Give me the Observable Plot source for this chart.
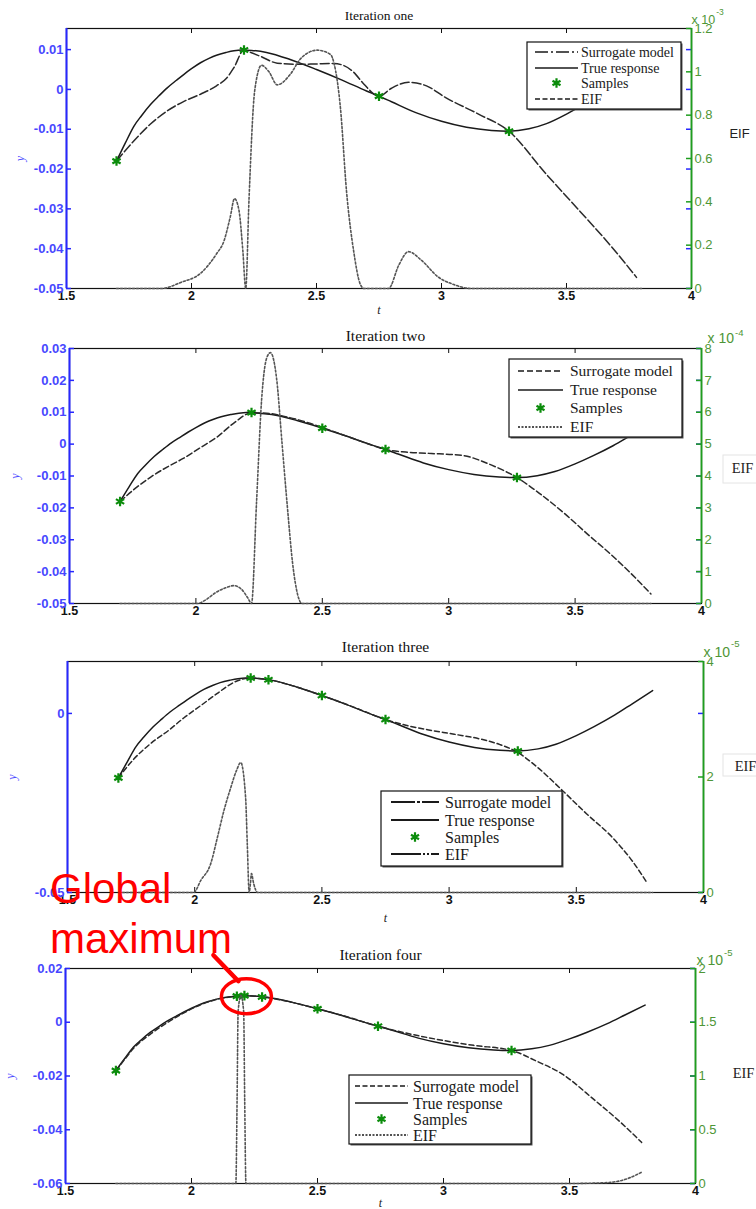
<!DOCTYPE html>
<html><head><meta charset="utf-8">
<script src="https://cdn.jsdelivr.net/npm/d3@7"></script>
<script src="https://cdn.jsdelivr.net/npm/@observablehq/plot@0.6"></script>
<style>
body{margin:0;background:#fff;}
#root{position:relative;width:756px;height:1209px;overflow:hidden;background:#fff;}
.layer{position:absolute;left:0;top:0;}
</style></head><body><div id="root"></div>
<script>
// ---------------- DATA ----------------
const xTicks = [1.5, 2, 2.5, 3, 3.5, 4];
const xInner = [2, 2.5, 3, 3.5];
const titles = ["Iteration one", "Iteration two", "Iteration three", "Iteration four"];
const legendLabels = ["Surrogate model", "True response", "Samples", "EIF"];
const yDomains = [[-0.05, 0.0153], [-0.05, 0.03], [-0.05, 0.0145], [-0.06, 0.02]];
const leftTicks = [
  [0.01, 0, -0.01, -0.02, -0.03, -0.04, -0.05],
  [0.03, 0.02, 0.01, 0, -0.01, -0.02, -0.03, -0.04, -0.05],
  [0, -0.05],
  [0.02, 0, -0.02, -0.04, -0.06]
];
const eifDomains = [[0, 1.2], [0, 8], [0, 4], [0, 2]];
const rightTicks = [[0, 0.2, 0.4, 0.6, 0.8, 1, 1.2], [0, 1, 2, 3, 4, 5, 6, 7, 8], [0, 2, 4], [0, 0.5, 1, 1.5, 2]];
const eifExponents = ["-3", "-4", "-5", "-5"];

// True response (same in every iteration)
const trueT = [1.7, 1.735, 1.77, 1.8, 1.836, 1.87, 1.903, 1.94, 1.97, 2.0, 2.036, 2.07, 2.1, 2.14, 2.17, 2.2, 2.24, 2.3, 2.4, 2.5, 2.6, 2.7, 2.75, 2.8, 2.9, 3.0, 3.1, 3.2, 3.27, 3.35, 3.42, 3.5, 3.57, 3.65, 3.72, 3.8];
const trueY = [-0.018, -0.0135, -0.0092, -0.0066, -0.0038, -0.0016, 0.0004, 0.0023, 0.0038, 0.0052, 0.0067, 0.0078, 0.0086, 0.0093, 0.0097, 0.0099, 0.0098, 0.0093, 0.0074, 0.005, 0.0024, -0.0004, -0.0017, -0.0031, -0.0059, -0.008, -0.0095, -0.0103, -0.0105, -0.0099, -0.0086, -0.0062, -0.0037, -0.0005, 0.0027, 0.0064];

// Surrogate models
const sur1T = [1.7, 1.77, 1.836, 1.903, 1.97, 2.036, 2.1, 2.14, 2.17, 2.21, 2.24, 2.276, 2.343, 2.436, 2.5, 2.569, 2.609, 2.649, 2.69, 2.75, 2.8, 2.868, 2.94, 3.015, 3.148, 3.27, 3.415, 3.548, 3.68, 3.78];
const sur1Y = [-0.018, -0.0129, -0.0087, -0.0054, -0.003, -0.0012, 0.0009, 0.0028, 0.0055, 0.0099, 0.0092, 0.0083, 0.0066, 0.0063, 0.0064, 0.0065, 0.006, 0.0043, 0.0013, -0.0017, 0.0003, 0.0018, 0.0009, -0.002, -0.0062, -0.0105, -0.021, -0.0302, -0.0395, -0.0472];
const sur2T = [1.7, 1.76, 1.82, 1.886, 1.95, 2.02, 2.085, 2.15, 2.22, 2.28, 2.35, 2.42, 2.5, 2.6, 2.68, 2.75, 2.83, 2.92, 3.05, 3.17, 3.27, 3.36, 3.46, 3.55, 3.64, 3.72, 3.8];
const sur2Y = [-0.018, -0.0139, -0.0104, -0.0072, -0.0045, -0.001, 0.0023, 0.0066, 0.0098, 0.0097, 0.0087, 0.0073, 0.0052, 0.0024, 0.0001, -0.0017, -0.0025, -0.0029, -0.0035, -0.0066, -0.0105, -0.0155, -0.0219, -0.0283, -0.0345, -0.0405, -0.047];
const sur3T = [1.7, 1.76, 1.827, 1.9, 1.958, 2.024, 2.089, 2.155, 2.22, 2.29, 2.4, 2.5, 2.62, 2.75, 2.83, 2.92, 3.02, 3.12, 3.2, 3.26, 3.35, 3.445, 3.54, 3.64, 3.72, 3.78];
const sur3Y = [-0.018, -0.0128, -0.0084, -0.0046, -0.0012, 0.0022, 0.0056, 0.0087, 0.0099, 0.0094, 0.0074, 0.005, 0.0019, -0.0017, -0.0033, -0.0046, -0.0058, -0.0071, -0.0087, -0.0105, -0.0152, -0.0215, -0.028, -0.0345, -0.0412, -0.0475];
const sur4T = [1.7, 1.735, 1.77, 1.836, 1.903, 1.97, 2.036, 2.1, 2.18, 2.21, 2.28, 2.4, 2.5, 2.6, 2.74, 2.85, 3.0, 3.12, 3.27, 3.37, 3.47, 3.6, 3.7, 3.786];
const sur4Y = [-0.018, -0.0138, -0.0097, -0.0045, -0.0002, 0.0035, 0.0065, 0.0085, 0.0097, 0.0099, 0.0094, 0.0074, 0.005, 0.0025, -0.0015, -0.004, -0.0068, -0.0086, -0.0105, -0.0145, -0.0192, -0.029, -0.037, -0.0447];

// Samples
const samp1T = [1.7, 2.21, 2.75, 3.27];
const samp1Y = [-0.018, 0.0099, -0.0017, -0.0105];
const samp2T = [1.7, 2.22, 2.5, 2.75, 3.27];
const samp2Y = [-0.018, 0.0099, 0.005, -0.0017, -0.0105];
const samp3T = [1.7, 2.22, 2.29, 2.5, 2.75, 3.27];
const samp3Y = [-0.018, 0.0099, 0.0094, 0.005, -0.0017, -0.0105];
const samp4T = [1.7, 2.18, 2.21, 2.28, 2.5, 2.74, 3.27];
const samp4Y = [-0.018, 0.0097, 0.0099, 0.0094, 0.005, -0.0015, -0.0105];

// EIF (right axis, in units of the exponent shown)
const eif1T = [1.7, 1.88, 1.957, 2.036, 2.1, 2.13, 2.155, 2.172, 2.19, 2.205, 2.217, 2.23, 2.253, 2.28, 2.31, 2.343, 2.396, 2.436, 2.503, 2.556, 2.57, 2.596, 2.62, 2.649, 2.675, 2.69, 2.788, 2.83, 2.868, 2.92, 2.988, 3.05, 3.12, 3.8];
const eif1V = [0, 0, 0.028, 0.07, 0.16, 0.22, 0.33, 0.415, 0.36, 0.18, 0, 0.41, 0.915, 1.03, 1.0, 0.94, 0.99, 1.06, 1.10, 1.08, 1.04, 0.83, 0.45, 0.17, 0.02, 0, 0, 0.11, 0.17, 0.13, 0.052, 0.018, 0, 0];
const eif2T = [1.7, 2.005, 2.04, 2.08, 2.12, 2.15, 2.18, 2.205, 2.22, 2.24, 2.26, 2.28, 2.295, 2.32, 2.34, 2.36, 2.385, 2.42, 3.8];
const eif2V = [0, 0, 0.12, 0.35, 0.5, 0.56, 0.45, 0.18, 0, 3.2, 6.4, 7.7, 7.87, 7.0, 5.1, 3.2, 1.1, 0, 0];
const eif3T = [1.7, 1.996, 2.024, 2.063, 2.089, 2.115, 2.142, 2.165, 2.181, 2.2, 2.207, 2.214, 2.219, 2.223, 2.232, 2.247, 3.8];
const eif3V = [0, 0, 0.21, 0.5, 0.95, 1.42, 1.82, 2.12, 2.25, 1.65, 0.8, 0, 0.15, 0.33, 0.15, 0, 0];
const eif4T = [1.7, 2.176, 2.181, 2.185, 2.196, 2.207, 2.211, 2.216, 3.5, 3.6, 3.668, 3.73, 3.786];
const eif4V = [0, 0, 0.8, 1.6, 1.75, 1.6, 0.8, 0, 0, 0.004, 0.012, 0.045, 0.105];

const annotationLines = ["Global", "maximum"];
const annotationPoint = {t: 2.22, y: 0.0095};

// ---------------- LAYOUT ----------------
const surT = [sur1T, sur2T, sur3T, sur4T], surY = [sur1Y, sur2Y, sur3Y, sur4Y];
const sampT = [samp1T, samp2T, samp3T, samp4T], sampY = [samp1Y, samp2Y, samp3Y, samp4Y];
const eifT = [eif1T, eif2T, eif3T, eif4T], eifV = [eif1V, eif2V, eif3V, eif4V];

const layouts = [
  {top: 0, H: 320, mt: 28, mb: 32, ml: 66, mr: 65, titleDy: -13, titleSize: 13.5, yDx: -46, tDy: 22,
   expDx: 0, expDy: -9, supDy: -16, expSize: 12.5, eifDx: 48, eifDy: -25, eifFont: "Liberation Sans", eifSize: 13, surDash: "9,3",
   legend: {x: 527, y: 42, w: 154, h: 67, rows: [52, 68, 83, 99], lx1: 535, lx2: 578, tx: 581, fs: 14, dashes: ["13,3,2,3", null, null, "5,2.5"], lw: 1.3}},
  {top: 320, H: 300, mt: 28, mb: 17, ml: 69, mr: 55, titleDy: -12, titleSize: 15.5, yDx: -54, tDy: null,
   expDx: 6, expDy: -10, supDy: -16, expSize: 14, eifDx: 41, eifDy: -8, eifFont: "Liberation Serif", eifSize: 14.5, surDash: "6,3",
   legend: {x: 509, y: 359, w: 173, h: 78, rows: [371, 390, 408, 427], lx1: 518, lx2: 563, tx: 570, fs: 15.5, dashes: ["6,3", null, null, "2,1.5"], lw: 1.3}},
  {top: 630, H: 300, mt: 31, mb: 38, ml: 67, mr: 53, titleDy: -14, titleSize: 15.5, yDx: -55, tDy: 26,
   expDx: 0, expDy: -9, supDy: -18, expSize: 14, eifDx: 42, eifDy: -11, eifFont: "Liberation Serif", eifSize: 14.5, surDash: "5,3",
   legend: {x: 381, y: 791, w: 181, h: 75, rows: [802, 820, 837, 854], lx1: 391, lx2: 439, tx: 445, fs: 16, dashes: ["24,2,3,2", null, null, "30,2,2,2,2,2"], lw: 2}},
  {top: 940, H: 269, mt: 28, mb: 26, ml: 65, mr: 61, titleDy: -13, titleSize: 15.5, yDx: -55, tDy: 20,
   expDx: 1, expDy: -8, supDy: -16, expSize: 14, eifDx: 48, eifDy: -3, eifFont: "Liberation Serif", eifSize: 14.5, surDash: "5,3",
   legend: {x: 349, y: 1075, w: 182, h: 69, rows: [1086, 1103, 1119, 1135], lx1: 355, lx2: 408, tx: 413, fs: 16, dashes: ["5,2.5", null, null, "2,1.5"], lw: 1.3}}
];

const blue = "#2727ff", blueText = "#4747ff", green = "#1e9e1e", greenText = "#4e9636", sampleGreen = "#0b8c0b";
const fmtL = d => d === 0 ? "0" : d.toFixed(2);
const fmtR = d => String(+d.toFixed(2));
const root = document.getElementById("root");
const plotsA = [];

layouts.forEach((L, i) => {
  const w = 756 - L.ml - L.mr, h = L.H - L.mt - L.mb;
  const common = {
    width: 756, height: L.H, marginLeft: L.ml, marginRight: L.mr, marginTop: L.mt, marginBottom: L.mb,
    style: {background: "transparent", overflow: "visible", fontFamily: "Liberation Sans"}
  };
  const xDomain = [xTicks[0], xTicks[xTicks.length - 1]];
  const trueData = trueT.map((t, k) => ({t, y: trueY[k]}));
  const surData = surT[i].map((t, k) => ({t, y: surY[i][k]}));
  const sampData = sampT[i].map((t, k) => ({t, y: sampY[i][k]}));
  const eifData = eifT[i].map((t, k) => ({t, v: eifV[i][k]}));

  const A = Plot.plot({...common, x: {domain: xDomain}, y: {domain: yDomains[i]}, marks: [
    Plot.frame({stroke: "#111", strokeWidth: 1.2}),
    Plot.line(trueData, {x: "t", y: "y", stroke: "#1a1a1a", strokeWidth: 1.5, curve: "monotone-x"}),
    Plot.line(surData, {x: "t", y: "y", stroke: "#2a2a2a", strokeWidth: 1.5, strokeDasharray: L.surDash, curve: "monotone-x"}),
    Plot.dot(sampData, {x: "t", y: "y", symbol: "asterisk", r: 4.5, stroke: sampleGreen, strokeWidth: 2.2}),
    Plot.tickX(xInner, {x: d => d, insetTop: h - 5, stroke: "#111"}),
    Plot.tickX(xInner, {x: d => d, insetBottom: h - 5, stroke: "#111"}),
    Plot.axisX({ticks: xTicks, tickSize: 0, tickPadding: 3, tickFormat: d => String(d), fontSize: 12.5, fontWeight: "bold", fill: "#111", label: null}),
    Plot.axisY({ticks: leftTicks[i], tickSize: 0, tickPadding: 3, tickFormat: fmtL, fontSize: 13, fontWeight: "bold", fill: blueText, label: null}),
    Plot.tickY(leftTicks[i], {y: d => d, insetRight: w - 5, stroke: blue, strokeWidth: 1.5}),
    Plot.tickY(leftTicks[i], {y: d => d, insetLeft: w - 5, stroke: blue, strokeWidth: 1.5}),
    Plot.ruleX([xDomain[0]], {stroke: blue, strokeWidth: 2}),
    Plot.text([titles[i]], {frameAnchor: "top", dy: L.titleDy, textAnchor: "middle", lineAnchor: "middle", fontFamily: "Liberation Serif", fontSize: L.titleSize, fill: "#111"}),
    Plot.text(["y"], {frameAnchor: "left", dx: L.yDx, rotate: -90, textAnchor: "middle", lineAnchor: "middle", fill: blueText, fontFamily: "Liberation Serif", fontStyle: "italic", fontSize: 12}),
    L.tDy != null ? Plot.text(["t"], {frameAnchor: "bottom", dy: L.tDy, textAnchor: "middle", lineAnchor: "middle", fontFamily: "Liberation Serif", fontStyle: "italic", fontSize: 12, fill: "#222"}) : null
  ]});

  const B = Plot.plot({...common, x: {domain: xDomain, axis: null}, y: {domain: eifDomains[i], axis: null}, marks: [
    Plot.line(eifData, {x: "t", y: "v", stroke: "#555", strokeWidth: 1.6, strokeDasharray: "2,2", curve: "monotone-x"}),
    Plot.axisY({anchor: "right", ticks: rightTicks[i], tickSize: 0, tickPadding: 3, tickFormat: fmtR, fontSize: 13, fill: greenText, label: null}),
    Plot.tickY(rightTicks[i], {y: d => d, insetLeft: w - 5, stroke: green, strokeWidth: 1.5}),
    Plot.ruleX([xDomain[1]], {stroke: green, strokeWidth: 1.8}),
    Plot.text(["x 10"], {frameAnchor: "top-right", dx: L.expDx, dy: L.expDy, textAnchor: "start", lineAnchor: "middle", fill: greenText, fontSize: L.expSize}),
    Plot.text([eifExponents[i]], {frameAnchor: "top-right", dx: L.expDx + L.expSize * 1.9 + 1, dy: L.supDy, textAnchor: "start", lineAnchor: "middle", fill: greenText, fontSize: L.expSize * 0.68}),
    Plot.text(["EIF"], {frameAnchor: "right", dx: L.eifDx, dy: L.eifDy, textAnchor: "middle", lineAnchor: "middle", fontFamily: L.eifFont, fontSize: L.eifSize, fill: "#222"})
  ]});

  const div = document.createElement("div");
  div.className = "layer";
  div.style.top = L.top + "px";
  div.style.width = "756px";
  div.style.height = L.H + "px";
  A.style.position = "absolute"; A.style.left = "0"; A.style.top = "0";
  B.style.position = "absolute"; B.style.left = "0"; B.style.top = "0";
  div.appendChild(A); div.appendChild(B);
  root.appendChild(div);
  plotsA.push(A);
});

// ---------------- OVERLAY: legends + annotation ----------------
const ov = d3.select(root).append("svg").attr("class", "layer")
  .attr("width", 756).attr("height", 1209).style("pointer-events", "none");

layouts.forEach((L, i) => {
  const G = L.legend;
  const g = ov.append("g");
  g.append("rect").attr("x", G.x + 1.5).attr("y", G.y + 1.5).attr("width", G.w).attr("height", G.h).attr("fill", "#555");
  g.append("rect").attr("x", G.x).attr("y", G.y).attr("width", G.w).attr("height", G.h)
    .attr("fill", "#fff").attr("stroke", "#111").attr("stroke-width", 1.2);
  legendLabels.forEach((lab, k) => {
    const yy = G.rows[k];
    if (k === 2) {
      g.append("path").attr("d", d3.symbol(d3.symbolAsterisk, 60)())
        .attr("transform", `translate(${(G.lx1 + G.lx2) / 2},${yy})`)
        .attr("fill", "none").attr("stroke", sampleGreen).attr("stroke-width", 2.2);
    } else {
      const ln = g.append("line").attr("x1", G.lx1).attr("x2", G.lx2).attr("y1", yy).attr("y2", yy)
        .attr("stroke", "#1a1a1a").attr("stroke-width", G.lw);
      if (G.dashes[k]) ln.attr("stroke-dasharray", G.dashes[k]);
    }
    g.append("text").attr("x", G.tx).attr("y", yy).attr("dy", "0.35em").text(lab)
      .attr("font-family", "Liberation Serif").attr("font-size", G.fs).attr("fill", "#1a1a1a");
  });
});

// faint boxes around the EIF labels of panels two and three
[[723, 455, 40, 28], [723, 754, 40, 22]].forEach(([x, y, w, h]) => {
  ov.append("rect").attr("x", x).attr("y", y).attr("width", w).attr("height", h)
    .attr("fill", "none").attr("stroke", "#e4e4e4");
});

// annotation
const A4 = plotsA[3];
const cx = A4.scale("x").apply(annotationPoint.t);
const cy = A4.scale("y").apply(annotationPoint.y) + layouts[3].top;
ov.append("line").attr("x1", cx - 33).attr("y1", cy - 41).attr("x2", cx - 8).attr("y2", cy - 15)
  .attr("stroke", "#ff0000").attr("stroke-width", 4.5).attr("stroke-linecap", "round");
ov.append("ellipse").attr("cx", cx).attr("cy", cy).attr("rx", 25).attr("ry", 17.5)
  .attr("fill", "none").attr("stroke", "#ff0000").attr("stroke-width", 3.5);
annotationLines.forEach((s, k) => {
  ov.append("text").attr("x", 50).attr("y", 903 + k * 50).text(s)
    .attr("font-family", "Liberation Sans").attr("font-size", 42).attr("fill", "#ff0000");
});
</script></body></html>
